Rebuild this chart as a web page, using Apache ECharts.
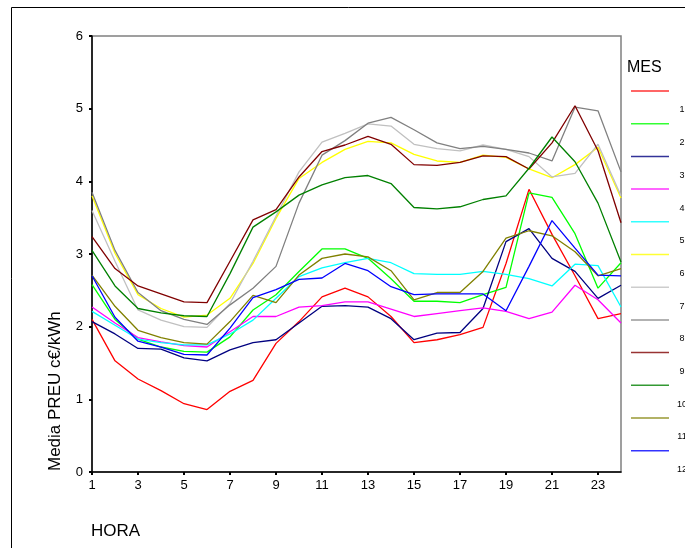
<!DOCTYPE html>
<html>
<head>
<meta charset="utf-8">
<script src="https://cdn.jsdelivr.net/npm/echarts@6/dist/echarts.min.js"></script>
<style>
html,body{margin:0;padding:0;background:#fff;}
#c{width:685px;height:548px;}
</style>
</head>
<body>
<div id="c"></div>
<script>
var hours = ['1','2','3','4','5','6','7','8','9','10','11','12','13','14','15','16','17','18','19','20','21','22','23','24'];
var monthNames = ['1','2','3','4','5','6','7','8','9','10','11','12'];
var monthColors = ['#ff0000','#00ff00','#000080','#ff00ff','#00ffff','#ffff00','#c0c0c0','#808080','#800000','#008000','#808000','#0000ff'];
var yTicks = [0,1,2,3,4,5,6];

var m1  = [2.10,1.53,1.28,1.12,0.94,0.86,1.11,1.26,1.77,2.07,2.41,2.53,2.41,2.14,1.78,1.82,1.89,1.99,2.87,3.89,3.27,2.70,2.11,2.18];
var m2  = [2.58,2.10,1.83,1.72,1.66,1.65,1.86,2.23,2.44,2.76,3.07,3.07,2.94,2.66,2.35,2.35,2.33,2.44,2.54,3.84,3.78,3.28,2.53,2.88];
var m3  = [2.07,1.90,1.70,1.69,1.57,1.53,1.68,1.78,1.82,2.05,2.28,2.29,2.27,2.11,1.82,1.91,1.92,2.25,3.17,3.35,2.94,2.76,2.39,2.57];
var m4  = [2.27,2.05,1.85,1.79,1.74,1.72,1.93,2.14,2.14,2.27,2.29,2.34,2.34,2.24,2.14,2.18,2.22,2.26,2.21,2.11,2.20,2.57,2.37,2.05];
var m5  = [2.21,2.02,1.83,1.78,1.75,1.75,1.90,2.09,2.39,2.69,2.81,2.88,2.94,2.88,2.73,2.72,2.72,2.76,2.72,2.66,2.56,2.86,2.84,2.27];
var m6  = [3.80,3.01,2.44,2.25,2.13,2.16,2.39,2.87,3.49,4.04,4.26,4.44,4.55,4.53,4.37,4.28,4.26,4.36,4.33,4.17,4.05,4.23,4.47,3.77];
var m7  = [3.60,2.90,2.23,2.09,2.00,1.99,2.32,2.90,3.52,4.13,4.54,4.66,4.79,4.76,4.51,4.45,4.42,4.50,4.44,4.34,4.06,4.11,4.51,3.80];
var m8  = [3.85,3.05,2.47,2.22,2.10,2.03,2.30,2.53,2.83,3.70,4.36,4.56,4.80,4.88,4.71,4.53,4.45,4.48,4.44,4.39,4.28,5.02,4.97,4.13];
var m9  = [3.24,2.80,2.56,2.45,2.34,2.33,2.90,3.47,3.61,4.06,4.41,4.50,4.62,4.51,4.23,4.22,4.26,4.35,4.34,4.17,4.53,5.04,4.42,3.43];
var m10 = [3.05,2.56,2.25,2.19,2.15,2.14,2.73,3.37,3.58,3.81,3.95,4.05,4.08,3.97,3.64,3.62,3.65,3.75,3.80,4.18,4.61,4.27,3.70,2.89];
var m11 = [2.71,2.28,1.95,1.85,1.78,1.76,2.07,2.43,2.33,2.71,2.94,3.00,2.96,2.77,2.37,2.47,2.47,2.76,3.22,3.32,3.25,3.03,2.70,2.80];
var m12 = [2.70,2.13,1.80,1.72,1.62,1.61,1.98,2.40,2.51,2.65,2.67,2.87,2.77,2.55,2.44,2.45,2.45,2.45,2.22,2.83,3.46,3.08,2.71,2.70];

var monthData = [m1,m2,m3,m4,m5,m6,m7,m8,m9,m10,m11,m12];
var FONT = "'Liberation Sans Narrow','Liberation Sans',Arial,sans-serif";

var chart = echarts.init(document.getElementById('c'), null, {renderer:'canvas'});

var series = monthData.map(function(d,i){
  return {
    name: monthNames[i], type:'line', data:d, symbol:'none',
    lineStyle:{color:monthColors[i], width:1.3},
    itemStyle:{color:monthColors[i]},
    emphasis:{disabled:true}, animation:false
  };
});

var graphics = [
  {type:'rect', shape:{x:11.5,y:7.5,width:720,height:600}, style:{fill:'none',stroke:'#000',lineWidth:1}, silent:true},
  {type:'text', x:627, y:68, style:{text:'MES', fontSize:16, fontFamily:FONT, fill:'#000', textAlign:'left', textVerticalAlign:'middle'}},
  {type:'text', x:55, y:471, rotation:Math.PI/2, style:{text:'Media PREU c€/kWh', fontSize:17, fontFamily:FONT, fill:'#000', textAlign:'left', textVerticalAlign:'middle'}},
  {type:'text', x:91, y:531, style:{text:'HORA', fontSize:17, fontFamily:FONT, fill:'#000', textAlign:'left', textVerticalAlign:'middle'}}
];
monthNames.forEach(function(n,i){
  var y = 91 + i*32.7;
  graphics.push({type:'line', shape:{x1:631,y1:y,x2:669,y2:y}, style:{stroke:monthColors[i], lineWidth:1.5, opacity:0.8}, silent:true});
  graphics.push({type:'text', x:682, y:y+19, style:{text:n, fontSize:9, fontFamily:FONT, fill:'#000', textAlign:'center', textVerticalAlign:'middle'}});
});

chart.setOption({
  animation:false,
  backgroundColor:'#fff',
  grid:{left:92, right:64, top:36, bottom:76, show:true, borderColor:'#808080', borderWidth:1.5, backgroundColor:'transparent'},
  xAxis:{
    type:'category', data:hours, boundaryGap:false,
    axisLine:{show:true, lineStyle:{color:'#000', width:1.5}},
    axisTick:{show:true, interval:1, length:3, inside:false, lineStyle:{color:'#000', width:2}},
    axisLabel:{interval:1, margin:7, fontSize:13, fontFamily:FONT, color:'#000'},
    splitLine:{show:false}
  },
  yAxis:{
    type:'value', min:yTicks[0], max:yTicks[yTicks.length-1], interval:1,
    axisLine:{show:true, lineStyle:{color:'#000', width:1.5}},
    axisTick:{show:true, length:3, lineStyle:{color:'#000', width:2}},
    axisLabel:{margin:9, fontSize:13, fontFamily:FONT, color:'#000'},
    splitLine:{show:false}
  },
  series: series,
  graphic: graphics
});
</script>
</body>
</html>
